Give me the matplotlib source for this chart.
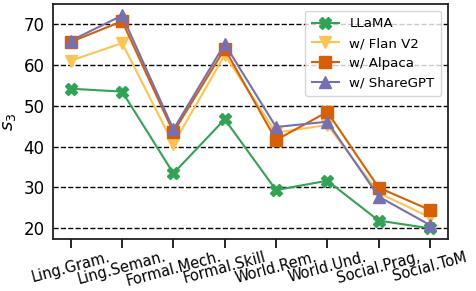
import matplotlib.pyplot as plt
import numpy as np

categories = ["Ling.Gram.", "Ling.Seman.", "Formal.Mech.", "Formal.Skill",
              "World.Rem.", "World.Und.", "Social.Prag.", "Social.ToM"]
llama = [54.2, 53.5, 33.4, 46.7, 29.3, 31.6, 21.8, 19.9]
flan = [61.1, 65.4, 40.6, 62.5, 43.4, 45.3, 28.6, 22.6]
alpaca = [65.7, 70.8, 43.5, 64.0, 41.6, 48.5, 29.9, 24.4]
sharegpt = [66.0, 72.2, 44.2, 65.2, 44.8, 46.1, 27.7, 20.7]

x = np.arange(len(categories))

fig = plt.figure(figsize=(4.76, 2.91), dpi=100)
ax = fig.add_axes([0.111, 0.179, 0.83, 0.807])

ax.plot(x, llama, color="#31a354", marker="X", markersize=8, lw=1.5, label="LLaMA")
ax.plot(x, flan, color="#fec44f", marker="v", markersize=8, lw=1.5, label="w/ Flan V2")
ax.plot(x, alpaca, color="#d95f02", marker="s", markersize=8, lw=1.5, label="w/ Alpaca")
ax.plot(x, sharegpt, color="#7570b3", marker="^", markersize=8, lw=1.5, label="w/ ShareGPT")

ax.set_ylim(17.3, 75)
ax.set_yticks([20, 30, 40, 50, 60, 70])
ax.yaxis.grid(True, linestyle="--", color="black", lw=1)
ax.set_axisbelow(True)
ax.set_xticks(x)
ax.set_xticklabels(categories, rotation=15, fontsize=10.5)
ax.tick_params(axis="y", labelsize=12, length=0, pad=6)
ax.tick_params(axis="x", length=6.5, width=1.2, pad=1)
for s in ax.spines.values():
    s.set_linewidth(1.3)
    s.set_color("#222222")
ax.set_ylabel("$s_3$", fontsize=13, labelpad=4)

ax.legend(loc="upper right", fontsize=9.6, handlelength=2, borderpad=0.5)

fig.savefig("out.png", dpi=100)
